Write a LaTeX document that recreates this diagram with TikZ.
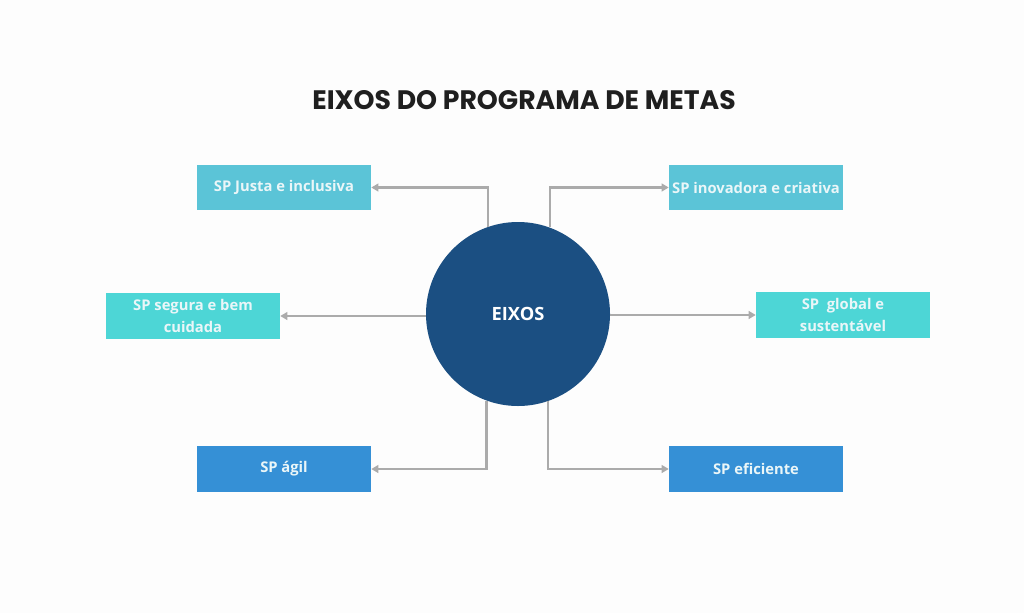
\documentclass[tikz,border=0pt]{standalone}
\usepackage{fontspec}
\setmainfont{Open Sans}
\newfontfamily\titlefont{Poppins}
\usetikzlibrary{arrows.meta}
\definecolor{bgc}{HTML}{FDFDFD}
\definecolor{cyanA}{HTML}{5BC4D7}
\definecolor{turqB}{HTML}{4DD6D6}
\definecolor{blueC}{HTML}{3590D6}
\definecolor{navy}{HTML}{1B4F82}
\definecolor{linec}{HTML}{ABABAB}
\definecolor{boxtext}{HTML}{EAF6F8}
\tikzset{
  axisbox/.style={rectangle, minimum width=43.5mm, minimum height=11.4mm, inner sep=1pt,
    align=center, text=boxtext, font=\bfseries\fontsize{10.5}{15.5}\selectfont},
  conn/.style={draw=linec, line width=1.5pt, -{Triangle[length=5pt,width=5.5pt]}},
}
\begin{document}
\begin{tikzpicture}[x=0.25mm,y=-0.25mm]
\fill[bgc] (0,0) rectangle (1024,613);
\useasboundingbox (0,0) rectangle (1024,613);
\node[font=\titlefont\bfseries\fontsize{19}{22}\selectfont, text=black!88] (title) at (524,100) {EIXOS DO PROGRAMA DE METAS};
\node[axisbox, fill=cyanA] (j) at (284,187.5) {SP Justa e inclusiva};
\node[axisbox, fill=cyanA] (i) at (756,187.5) {SP inovadora e criativa};
\node[axisbox, fill=turqB] (s) at (193,316) {SP segura e bem\\cuidada};
\node[axisbox, fill=turqB] (g) at (843,315) {SP \ global e\\sustentável};
\node[axisbox, fill=blueC] (a) at (284,469) {SP ágil};
\node[axisbox, fill=blueC] (e) at (756,469) {SP eficiente};
\node[circle, minimum size=46mm, inner sep=0pt, fill=navy, text=white,
  font=\bfseries\fontsize{13}{15}\selectfont] (c) at (518,314) {EIXOS};
\draw[conn] (c.109.7) |- (j.east);
\draw[conn] (c.70.3) |- (i.west);
\draw[conn] (c.west |- s.east) -- (s.east);
\draw[conn] (c.east |- g.west) -- (g.west);
\draw[conn] (c.250.3) |- (a.east);
\draw[conn] (c.289.7) |- (e.west);
\end{tikzpicture}
\end{document}
